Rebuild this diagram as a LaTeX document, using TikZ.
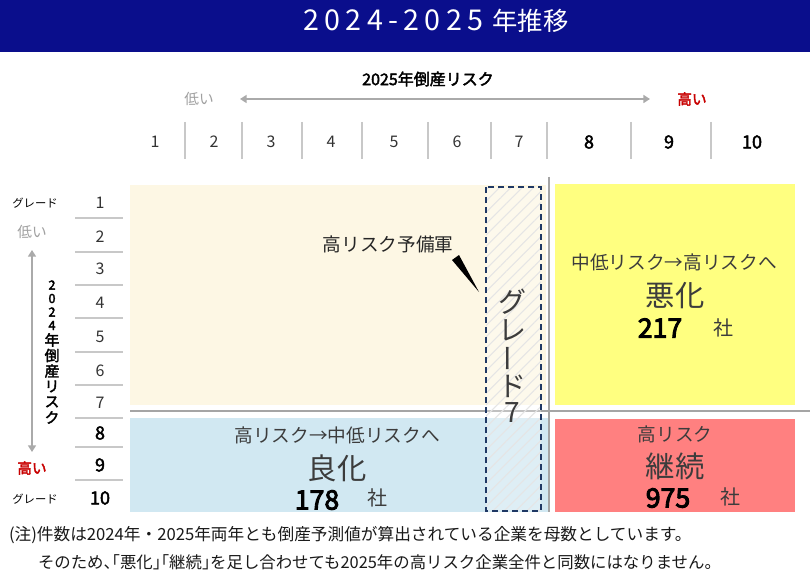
\documentclass[tikz,border=0pt]{standalone}
\usepackage{fontspec}
\setmainfont{Noto Sans CJK JP}
\newfontfamily\semib[FakeBold=2.5]{Noto Sans CJK JP}
\newfontfamily\numb[FakeBold=3.5]{Noto Sans CJK JP}
\usepackage{graphicx}
\usetikzlibrary{patterns.meta,arrows.meta}
\definecolor{titlebg}{RGB}{10,14,140}
\definecolor{creamc}{RGB}{253,247,228}
\definecolor{bluec}{RGB}{209,232,242}
\definecolor{yellowc}{RGB}{255,255,128}
\definecolor{redc}{RGB}{255,128,128}
\definecolor{divgray}{RGB}{165,165,165}
\definecolor{sepgray}{RGB}{200,200,200}
\definecolor{arrgray}{RGB}{170,170,170}
\definecolor{lowgray}{RGB}{160,160,160}
\definecolor{hired}{RGB}{200,0,0}
\definecolor{navyc}{RGB}{31,56,100}
\definecolor{txtgray}{RGB}{60,60,60}
\newcommand\fsz[1]{\fontsize{#1}{#1}\selectfont}
\newcommand\tsp{\hspace{4pt}}
\begin{document}
\begin{tikzpicture}[x=0.75pt,y=-0.75pt,
  every node/.style={inner sep=0pt,outer sep=0pt},
  sepline/.style={draw=sepgray,line width=0.9pt},
  divline/.style={draw=divgray,line width=2.2pt},
  axarrow/.style={draw=arrgray,line width=2pt,{Triangle[length=5pt,width=6pt]}-{Triangle[length=5pt,width=6pt]}},
  smallnum/.style={font=\fsz{12pt},text=black!80},
  bignum/.style={font=\semib\fsz{13.5pt},text=black},
  qtext/.style={font=\fsz{14pt},text=txtgray},
  qbig/.style={font=\fsz{22pt},text=txtgray},
  qnum/.style={font=\numb\fsz{20pt},text=black},
  qsha/.style={font=\fsz{15pt},text=txtgray},
  vdig/.style={font=\semib\fsz{9.5pt},text=black},
  vchar/.style={font=\semib\fsz{11pt},text=black},
  gchar/.style={font=\fsz{21pt},text=txtgray}]
\useasboundingbox (0,0) rectangle (810,574);
\fill[white] (0,0) rectangle (810,574);
% title bar
\fill[titlebg] (0,0) rectangle (810,52);
\node[text=white,font=\fsz{21.5pt}] (title) at (436,21) {2\tsp0\tsp2\tsp4\tsp-\tsp2\tsp0\tsp2\tsp5\hspace{7pt}{\fsz{19pt}年推移}};
% top axis
\node[font=\semib\fsz{12pt}] (xaxis) at (428,79) {2025年倒産リスク};
\node[text=lowgray,font=\fsz{11pt}] (lowx) at (199,99) {低い};
\node[text=hired,font=\semib\fsz{11pt}] (highx) at (692,99) {高い};
\coordinate (xa1) at (240,99);
\coordinate (xa2) at (650,99);
\draw[axarrow] (xa1) -- (xa2);
\foreach \n/\x in {1/155,2/214,3/271,4/331,5/394,6/457,7/519}
  \node[smallnum] (tn\n) at (\x,142) {\n};
\foreach \n/\x in {8/589,9/669,10/752}
  \node[bignum] (tn\n) at (\x,142) {\n};
\foreach \x [count=\i] in {185,242,302,362,428,491,547,631,711}
  \draw[sepline] (\x,122) coordinate (ts\i) -- (\x,159);
% left axis
\node[font=\fsz{8.5pt}] (gtop) at (35,203) {グレード};
\node[font=\fsz{8.5pt}] (gbot) at (35,499) {グレード};
\node[text=lowgray,font=\fsz{11pt}] (lowy) at (32,232) {低い};
\node[text=hired,font=\semib\fsz{11pt}] (highy) at (32,468) {高い};
\coordinate (ya1) at (32,250);
\coordinate (ya2) at (32,452);
\draw[axarrow] (ya1) -- (ya2);
\foreach \c/\y [count=\i] in {2/285,0/298.5,2/312,4/325.5}
  \node[vdig] (vd\i) at (52,\y) {\c};
\foreach \c/\y [count=\i] in {年/340,倒/355.5,産/371,リ/386.5,ス/402,ク/417.5}
  \node[vchar] (vc\i) at (52,\y) {\c};
\foreach \n/\y in {1/203,2/237,3/269,4/303,5/337,6/371,7/403}
  \node[smallnum] (ln\n) at (100,\y) {\n};
\foreach \n/\y in {8/433,9/465,10/498}
  \node[bignum] (ln\n) at (100,\y) {\n};
\foreach \y [count=\i] in {218,252,285,318,352,385,418,447,480}
  \draw[sepline] (75,\y) coordinate (ls\i) -- (123,\y);
% quadrants
\fill[creamc] (130,185) rectangle (546,405);
\fill[bluec] (130,418) rectangle (548,512);
\fill[yellowc] (555,184) rectangle (795,405);
\fill[redc] (555,419) rectangle (795,512);
\draw[divline] (549,177) -- (549,512);
\draw[divline] (130,411) -- (810,411);
% grade 7 band
\fill[white,opacity=0.3] (486,187) rectangle (541,511);
\fill[pattern={Lines[angle=45,distance=6pt,line width=0.8pt]},pattern color=black!10] (486,187) rectangle (541,511);
\draw[navyc,line width=1.5pt,dash pattern=on 4.5pt off 3pt] (486,187) rectangle (541,511);
\node[gchar] (g1) at (512,302) {グ};
\node[gchar] (g2) at (512,330) {レ};
\node[gchar] (g3) at (512,358) {\rotatebox{90}{ー}};
\node[gchar] (g4) at (512,386) {ド};
\node[gchar] (g5) at (512,413) {7};
% callout
\node[font=\fsz{14pt},text=black!85] (yobi) at (388,244) {高リスク予備軍};
\coordinate (w1) at (452,260);
\coordinate (w2) at (459,255);
\coordinate (w3) at (479,292);
\fill[black] (w1) -- (w2) -- (w3) -- cycle;
% yellow
\node[qtext] (yt) at (674,262) {中低リスク→高リスクへ};
\node[qbig] (yb) at (675,296) {悪化};
\node[qnum] (yn) at (660,328) {217};
\node[qsha] (ys) at (723,328) {社};
% red
\node[qtext] (rt) at (675,434) {高リスク};
\node[qbig] (rb) at (675,466) {継続};
\node[qnum] (rn) at (668,498) {975};
\node[qsha] (rs) at (730,497) {社};
% blue
\node[qtext] (bt) at (337,435) {高リスク→中低リスクへ};
\node[qbig] (bb) at (337,468) {良化};
\node[qnum] (bn) at (317,500) {178};
\node[qsha] (bs) at (377,498) {社};
% footnote
\node[anchor=west,font=\fsz{12.5pt},text=black!90] (fn1) at (9,535) {(注)件数は2024年・2025年両年とも倒産予測値が算出されている企業を母数としています。};
\node[anchor=west,font=\fsz{12.3pt},text=black!90] (fn2) at (38,562) {\addfontfeature{RawFeature=+halt}そのため、「悪化」「継続」を足し合わせても2025年の高リスク企業全件と同数にはなりません。};
\end{tikzpicture}
\end{document}
